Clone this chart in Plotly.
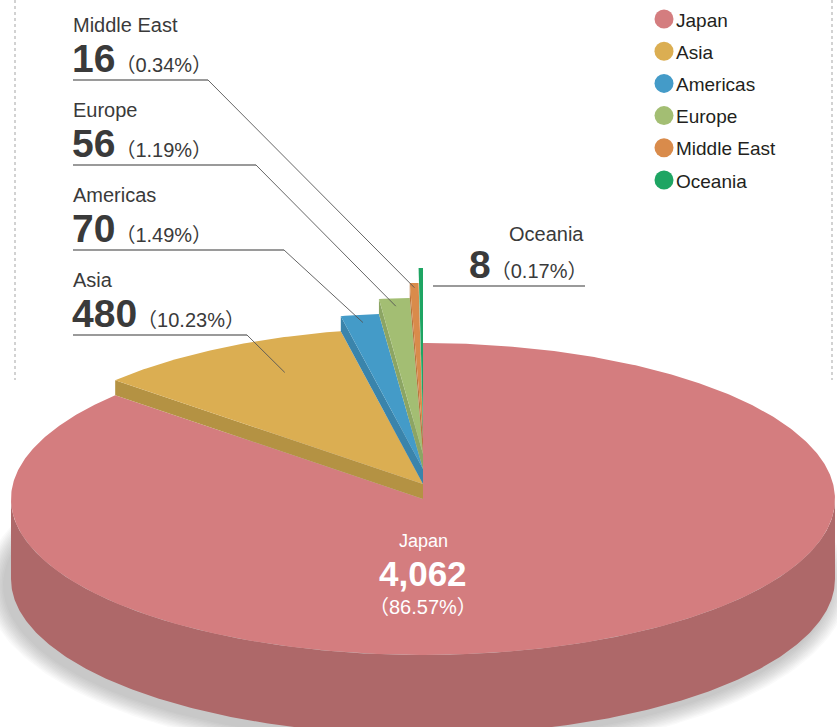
import numpy as np
import plotly.graph_objects as go

# ---------------- data ----------------
categories = ["Japan", "Asia", "Americas", "Europe", "Middle East", "Oceania"]
values = [4062, 480, 70, 56, 16, 8]
value_labels = ["4,062", "480", "70", "56", "16", "8"]
percent_labels = ["86.57%", "10.23%", "1.49%", "1.19%", "0.34%", "0.17%"]

# ---------------- style ----------------
top_colors = ["#D47D7F", "#DBAE52", "#449BC8", "#A3BE73", "#D98B4B", "#1EA563"]
side_colors = ["#AE6869", "#B49243", "#3A84AB", "#8CA564", "#B8763F", "#178A52"]

W, H = 837, 727
CX, CY, RX, RY = 423, 499, 412, 156
DEPTH = 80
STEP = 15

TXT_FONT = "Liberation Sans, Arial, Noto Sans CJK JP, sans-serif"
NUM_FONT = "Liberation Sans, Arial, sans-serif"
PCT_FONT = "Liberation Sans, Noto Sans CJK JP"
TXT_COLOR = "#3a3a3a"

total = float(sum(values))
fracs = np.array(values, dtype=float) / total
ends = np.cumsum(fracs) * 360.0
starts = ends - fracs * 360.0


def pt(theta, r=1.0, lift=0.0):
    t = np.radians(theta)
    return CX + r * RX * np.sin(t), CY - r * RY * np.cos(t) - lift


def arc(a0, a1, lift=0.0, n=None):
    if n is None:
        n = max(4, int(abs(a1 - a0) * 2))
    th = np.linspace(a0, a1, n)
    t = np.radians(th)
    return list(CX + RX * np.sin(t)), list(CY - RY * np.cos(t) - lift)


fig = go.Figure()


def poly(xs, ys, color):
    fig.add_trace(go.Scatter(x=xs + [xs[0]], y=ys + [ys[0]], mode="lines",
                             fill="toself", fillcolor=color,
                             line=dict(width=0, color=color), hoverinfo="skip",
                             showlegend=False))


# soft shadow beneath the pie
for k in range(12):
    grow = 2 + k * 1.6
    t = np.radians(np.linspace(0, 360, 240))
    xs = list(CX - 6 + (RX + grow) * np.sin(t))
    ys = list(CY + DEPTH + 6 - (RY + grow * 0.9) * np.cos(t))
    poly(xs, ys, "rgba(95,98,102,0.03)")

# Japan (base slice): visible front side then top face
a0 = max(starts[0], 90.0)
a1 = min(ends[0], 270.0)
sx, sy = arc(a0, a1, 0)
bx, by = arc(a1, a0, -DEPTH)
poly(sx + bx, sy + by, side_colors[0])
tx, ty = arc(starts[0], ends[0], 0)
poly([CX] + tx, [CY] + ty, top_colors[0])

# exploded (stepped) small slices
anchor_r = [None, 0.79, 0.95, 0.95, 0.97, 0.97]
anchor_f = [None, 0.63, 0.5, 0.5, 0.5, 0.5]
anchors = {}
for i in range(1, len(values)):
    lift = STEP * i
    ox, oy = pt(starts[i], 1.0, lift)
    ox2, oy2 = pt(starts[i], 1.0, lift - STEP)
    poly([CX, ox, ox2, CX], [CY - lift, oy, oy2, CY - lift + STEP], side_colors[i])
    tx, ty = arc(starts[i], ends[i], lift)
    poly([CX] + tx, [CY - lift] + ty, top_colors[i])
    ang = starts[i] + anchor_f[i] * (ends[i] - starts[i])
    anchors[i] = pt(ang, anchor_r[i], lift)

# dotted frame lines
for xv in (15, 832):
    fig.add_trace(go.Scatter(x=[xv, xv], y=[0, 380], mode="lines",
                             line=dict(color="#c4c4c4", width=1.5, dash="dot"),
                             hoverinfo="skip", showlegend=False))

annotations = []


def value_text(i, size_pct=20):
    return ("<b>" + value_labels[i] + "</b>"
            + "<span style='font-family:" + PCT_FONT + ";font-size:" + str(size_pct)
            + "px;font-weight:normal'>" + "（" + percent_labels[i] + "）</span>")


# left-side labels (Middle East, Europe, Americas, Asia)
LABEL_X = 73
left_items = [4, 3, 2, 1]
underline_y = [80, 165, 250, 335]
bend_x = [208, 256, 284, 247]
for j, i in enumerate(left_items):
    uy = underline_y[j]
    fig.add_trace(go.Scatter(x=[LABEL_X, bend_x[j]], y=[uy, uy], mode="lines",
                             line=dict(color="#9a9a9a", width=2),
                             hoverinfo="skip", showlegend=False))
    ax_, ay_ = anchors[i]
    fig.add_trace(go.Scatter(x=[bend_x[j], ax_], y=[uy, ay_], mode="lines",
                             line=dict(color="#555555", width=0.9),
                             hoverinfo="skip", showlegend=False))
    annotations.append(dict(x=LABEL_X - 2, y=uy - 55, xref="x", yref="y",
                            text=categories[i], showarrow=False, xanchor="left",
                            yanchor="middle",
                            font=dict(family=TXT_FONT, size=20, color=TXT_COLOR)))
    annotations.append(dict(
        x=LABEL_X - 3, y=uy - 22, xref="x", yref="y", showarrow=False,
        xanchor="left", yanchor="middle", text=value_text(i),
        font=dict(family=NUM_FONT, size=39, color=TXT_COLOR)))

# Oceania label (right of the slices)
OC_RIGHT = 585
oc_uy = 286
fig.add_trace(go.Scatter(x=[433, OC_RIGHT], y=[oc_uy, oc_uy], mode="lines",
                         line=dict(color="#9a9a9a", width=2),
                         hoverinfo="skip", showlegend=False))
annotations.append(dict(x=OC_RIGHT + 1, y=oc_uy - 52, xref="x", yref="y",
                        text=categories[5], showarrow=False, xanchor="right",
                        yanchor="middle",
                        font=dict(family=TXT_FONT, size=20, color=TXT_COLOR)))
annotations.append(dict(
    x=OC_RIGHT + 4, y=oc_uy - 22, xref="x", yref="y", showarrow=False,
    xanchor="right", yanchor="middle", text=value_text(5),
    font=dict(family=NUM_FONT, size=39, color=TXT_COLOR)))

# Japan label inside the big slice
annotations.append(dict(x=CX, y=541, xref="x", yref="y", text=categories[0],
                        showarrow=False, xanchor="center", yanchor="middle",
                        font=dict(family=TXT_FONT, size=18, color="white")))
annotations.append(dict(x=CX, y=573, xref="x", yref="y",
                        text="<b>" + value_labels[0] + "</b>",
                        showarrow=False, xanchor="center", yanchor="middle",
                        font=dict(family=NUM_FONT, size=35, color="white")))
annotations.append(dict(x=CX, y=607, xref="x", yref="y",
                        text="（" + percent_labels[0] + "）",
                        showarrow=False, xanchor="center", yanchor="middle",
                        font=dict(family=PCT_FONT, size=20, color="white")))

# custom legend (circles + names)
LEG_X, LEG_Y0, LEG_DY = 664, 19, 32.2
leg_y = [LEG_Y0 + LEG_DY * k for k in range(len(categories))]
fig.add_trace(go.Scatter(x=[LEG_X] * len(categories), y=leg_y, mode="markers",
                         marker=dict(size=19, color=top_colors, line=dict(width=0)),
                         hoverinfo="skip", showlegend=False))
for k, name in enumerate(categories):
    annotations.append(dict(x=LEG_X + 10, y=leg_y[k] + 1, xref="x", yref="y", text=name,
                            showarrow=False, xanchor="left", yanchor="middle",
                            font=dict(family=TXT_FONT, size=19, color="#231f20")))

fig.update_layout(
    width=W, height=H,
    margin=dict(l=0, r=0, t=0, b=0),
    paper_bgcolor="white", plot_bgcolor="white",
    xaxis=dict(range=[0, W], visible=False, fixedrange=True),
    yaxis=dict(range=[H, 0], visible=False, fixedrange=True),
    annotations=annotations,
    showlegend=False,
)

fig.write_html("out.html", config={"displayModeBar": False})
